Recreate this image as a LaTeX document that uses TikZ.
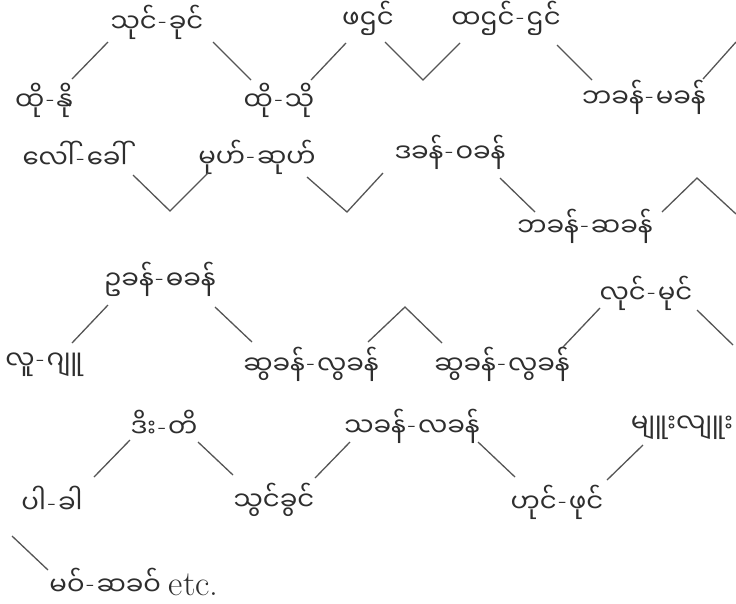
\documentclass[tikz,border=0pt]{standalone}
\usepackage{fontspec}
\newfontfamily\mmfont[Script=Myanmar]{Noto Sans Myanmar UI}
\newfontfamily\etcfont{Latin Modern Roman}
\newcommand\hy{\hspace{0.08em}\raisebox{0.14em}{\rmfamily -}\hspace{0.08em}}
\definecolor{ink}{HTML}{2E2E2E}
\definecolor{wire}{HTML}{555555}
\tikzset{
  word/.style={font=\mmfont\fontsize{26}{30}\selectfont, text=ink, inner sep=0pt, anchor=center},
  link/.style={draw=wire, line width=1.3pt}
}
\begin{document}
\begin{tikzpicture}[x=1pt,y=-1pt]
\useasboundingbox[fill=white] (0,0) rectangle (736,603);
% row 1
\node[word] (A) at (44,100) {ထို\hy နို};
\node[word] (B) at (157,22) {သုင်\hy ခုင်};
\node[word] (C) at (279,100) {ထို\hy သို};
\node[word] (D) at (368,18) {ဖဌင်};
\node[word] (E) at (506,18) {ထဌင်\hy ဌင်};
\node[word] (F) at (644,97) {ဘခန်\hy မခန်};
% row 2
\node[word] (G) at (75,155) {လေါ်\hy ခေါ်};
\node[word] (H) at (257,157) {မုဟ်\hy ဆုဟ်};
\node[word] (I) at (450,152) {ဒခန်\hy ဝခန်};
\node[word] (J) at (585,226) {ဘခန်\hy ဆခန်};
% row 3
\node[word] (K) at (160,279) {ဥခန်\hy ဓခန်};
\node[word] (L) at (44,365) {လူ\hy ဂျူ};
\node[word] (M) at (311,364) {ဆွခန်\hy လွခန်};
\node[word] (N) at (502,364) {ဆွခန်\hy လွခန်};
\node[word] (O) at (646,293) {လုင်\hy မုင်};
% row 4
\node[word] (P) at (164,424) {ဒိး\hy တိ};
\node[word] (Q) at (412,426) {သခန်\hy လခန်};
\node[word] (R) at (682,428) {မျူးလျူး};
\node[word] (S) at (52,500) {ပါ\hy ခါ};
\node[word] (T) at (274,500) {သွင်ခွင်};
\node[word] (U) at (557,502) {ဟုင်\hy ဖုင်};
\node[word] (V) at (134,582) {မဝ်\hy ဆခဝ်\hspace{0.3em}\scalebox{1.35}{\etcfont etc.}};
% connector end points
\coordinate (a1) at (72,79);   \coordinate (b1) at (108,42);
\coordinate (b2) at (213,42);  \coordinate (c1) at (251,80);
\coordinate (c2) at (311,80);  \coordinate (d1) at (346,43);
\coordinate (d2) at (385,42);  \coordinate (v1) at (423,80);  \coordinate (e1) at (460,43);
\coordinate (e2) at (557,45);  \coordinate (f1) at (592,80);
\coordinate (f2) at (703,79);  \coordinate (o1) at (736,42);
\coordinate (g1) at (133,175); \coordinate (v2) at (170,211); \coordinate (h1) at (208,173);
\coordinate (h2) at (307,177); \coordinate (v3) at (347,212); \coordinate (i1) at (383,173);
\coordinate (i2) at (500,178); \coordinate (j1) at (535,212);
\coordinate (j2) at (662,212); \coordinate (p1) at (697,178); \coordinate (o2) at (736,214);
\coordinate (l1) at (72,343);  \coordinate (k1) at (108,305);
\coordinate (k2) at (215,307); \coordinate (m1) at (252,342);
\coordinate (m2) at (368,342); \coordinate (p2) at (405,307); \coordinate (n1) at (442,343);
\coordinate (n2) at (563,347); \coordinate (q1) at (600,308);
\coordinate (q2) at (697,310); \coordinate (o3) at (733,345);
\coordinate (s1) at (94,477);  \coordinate (pp1) at (130,440);
\coordinate (pp2) at (198,442); \coordinate (t1) at (233,475);
\coordinate (t2) at (315,478); \coordinate (qq1) at (350,442);
\coordinate (qq2) at (478,442); \coordinate (u1) at (515,477);
\coordinate (u2) at (607,480); \coordinate (r1) at (643,445);
\coordinate (s2) at (12,536);  \coordinate (w1) at (48,570);
% connectors
\draw[link] (a1) -- (b1);
\draw[link] (b2) -- (c1);
\draw[link] (c2) -- (d1);
\draw[link] (d2) -- (v1) -- (e1);
\draw[link] (e2) -- (f1);
\draw[link] (f2) -- (o1);
\draw[link] (g1) -- (v2) -- (h1);
\draw[link] (h2) -- (v3) -- (i1);
\draw[link] (i2) -- (j1);
\draw[link] (j2) -- (p1) -- (o2);
\draw[link] (l1) -- (k1);
\draw[link] (k2) -- (m1);
\draw[link] (m2) -- (p2) -- (n1);
\draw[link] (n2) -- (q1);
\draw[link] (q2) -- (o3);
\draw[link] (s1) -- (pp1);
\draw[link] (pp2) -- (t1);
\draw[link] (t2) -- (qq1);
\draw[link] (qq2) -- (u1);
\draw[link] (u2) -- (r1);
\draw[link] (s2) -- (w1);
\end{tikzpicture}
\end{document}
